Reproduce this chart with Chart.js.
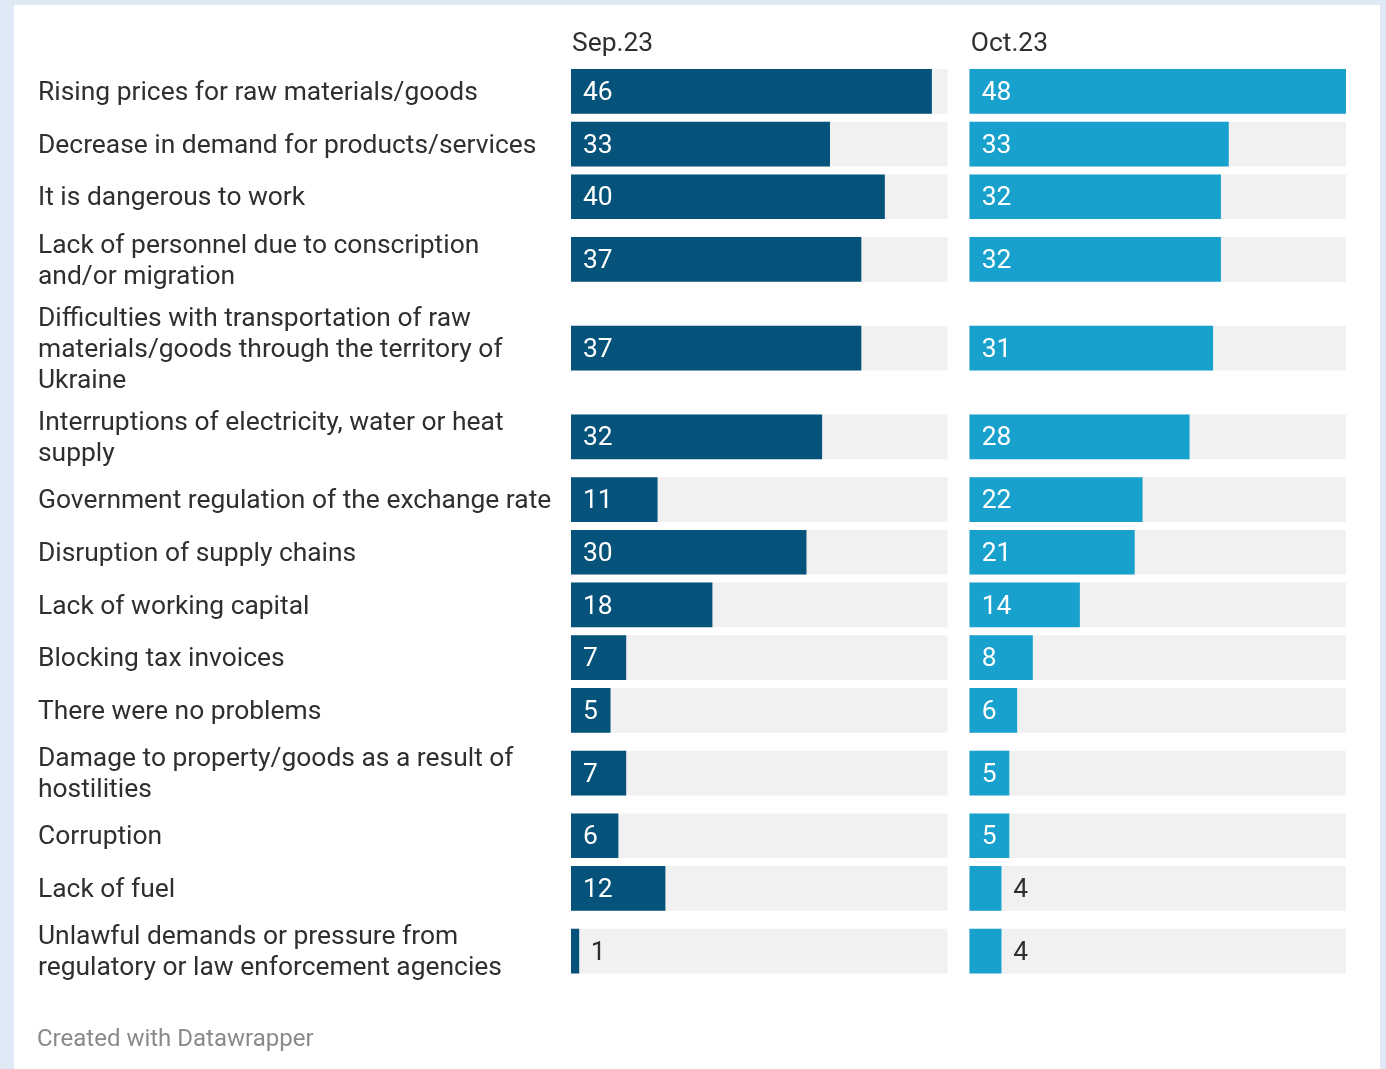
<!DOCTYPE html>
<html>
<head>
<meta charset="utf-8">
<script src="https://cdn.jsdelivr.net/npm/chart.js@4/dist/chart.umd.min.js"></script>
<style>
  html, body { margin: 0; padding: 0; background: #dfe9f5; overflow: hidden; }
  #panel { position: absolute; left: 14px; top: 5px; width: 1366px; height: 1064px; background: #ffffff; }
  #wrap { position: absolute; left: 0; top: 0; width: 1386px; height: 1069px; }
</style>
</head>
<body>
<div id="panel"></div>
<div id="wrap"><canvas id="chart" width="1386" height="1069"></canvas></div>
<script>
// Problems reported by businesses, % of respondents
const categories = [
  ["Rising prices for raw materials/goods"],
  ["Decrease in demand for products/services"],
  ["It is dangerous to work"],
  ["Lack of personnel due to conscription", "and/or migration"],
  ["Difficulties with transportation of raw", "materials/goods through the territory of", "Ukraine"],
  ["Interruptions of electricity, water or heat", "supply"],
  ["Government regulation of the exchange rate"],
  ["Disruption of supply chains"],
  ["Lack of working capital"],
  ["Blocking tax invoices"],
  ["There were no problems"],
  ["Damage to property/goods as a result of", "hostilities"],
  ["Corruption"],
  ["Lack of fuel"],
  ["Unlawful demands or pressure from", "regulatory or law enforcement agencies"]
];
const seriesNames = ["Sep.23", "Oct.23"];
const sep23 = [46, 33, 40, 37, 37, 32, 11, 30, 18, 7, 5, 7, 6, 12, 1];
const oct23 = [48, 33, 32, 32, 31, 28, 22, 21, 14, 8, 6, 5, 5, 4, 4];
const scaleMax = 48;
const footerText = "Created with Datawrapper";

// Layout settings
const FONT = "Roboto, 'Noto Sans', sans-serif";
const BAR_H = 44;          // bar thickness in px
const LINE_H = 32;         // row height per label line
const TEXT_LINE = 31;      // drawn line pitch of labels
const ROW_GAP = 8.7;
const TEXT_DY = 2;         // optical centring of text on its row
const PANEL_GAP = scaleMax * 0.06;   // space between the two panels (value units)
const COLORS = ["#05527b", "#18a1cd"];
const TRACK = "#f1f1f1";

// Row centres derived from the number of label lines
const rowHeights = categories.map(l => Math.max(BAR_H, l.length * LINE_H) + ROW_GAP);
const rowCenters = [];
let acc = 0;
rowHeights.forEach(h => { rowCenters.push(acc + h / 2); acc += h; });
const totalHeight = acc;

const offsets = [0, scaleMax + PANEL_GAP];
const series = [sep23, oct23];

const datasets = [];
series.forEach((vals, s) => {
  datasets.push({
    label: seriesNames[s],
    data: vals.map((v, i) => ({ x: [offsets[s], offsets[s] + v], y: rowCenters[i] })),
    backgroundColor: COLORS[s],
    barThickness: BAR_H,
    grouped: false,
    order: 1
  });
});
series.forEach((vals, s) => {
  datasets.push({
    label: "track" + s,
    data: vals.map((v, i) => ({ x: [offsets[s], offsets[s] + scaleMax], y: rowCenters[i] })),
    backgroundColor: TRACK,
    barThickness: BAR_H,
    grouped: false,
    order: 2
  });
});

const textPlugin = {
  id: "texts",
  afterDatasetsDraw(chart) {
    const ctx = chart.ctx;
    const xs = chart.scales.x, ys = chart.scales.y;
    ctx.save();
    ctx.textBaseline = "middle";
    ctx.font = "26.4px " + FONT;

    // category labels
    ctx.fillStyle = "#2f2f2f";
    ctx.textAlign = "left";
    categories.forEach((lines, i) => {
      const cy = ys.getPixelForValue(rowCenters[i]) + TEXT_DY;
      const start = cy - (lines.length - 1) * TEXT_LINE / 2;
      lines.forEach((t, k) => ctx.fillText(t, 38, start + k * TEXT_LINE));
    });

    // panel headers
    seriesNames.forEach((name, s) => {
      ctx.fillText(name, xs.getPixelForValue(offsets[s]) + 1, 42 + TEXT_DY);
    });

    // value labels
    series.forEach((vals, s) => {
      const meta = chart.getDatasetMeta(s);
      meta.data.forEach((bar, i) => {
        const txt = String(vals[i]);
        const w = ctx.measureText(txt).width;
        const left = Math.min(bar.x, bar.base), right = Math.max(bar.x, bar.base);
        if (right - left >= w + 24) {
          ctx.fillStyle = "#ffffff";
          ctx.fillText(txt, left + 12, bar.y + TEXT_DY);
        } else {
          ctx.fillStyle = "#2f2f2f";
          ctx.fillText(txt, right + 12, bar.y + TEXT_DY);
        }
      });
    });

    // footer
    ctx.font = "24px " + FONT;
    ctx.fillStyle = "#8a8a8a";
    ctx.fillText(footerText, 37, 1038 + TEXT_DY);
    ctx.restore();
  }
};

new Chart(document.getElementById("chart"), {
  type: "bar",
  data: { datasets },
  options: {
    indexAxis: "y",
    responsive: false,
    animation: false,
    layout: { padding: { left: 571, right: 40, top: 65, bottom: 1069 - 65 - totalHeight } },
    scales: {
      x: { type: "linear", min: 0, max: offsets[1] + scaleMax, display: false },
      y: { type: "linear", min: 0, max: totalHeight, reverse: true, offset: false, display: false }
    },
    plugins: { legend: { display: false }, tooltip: { enabled: false } }
  },
  plugins: [textPlugin]
});
</script>
</body>
</html>
